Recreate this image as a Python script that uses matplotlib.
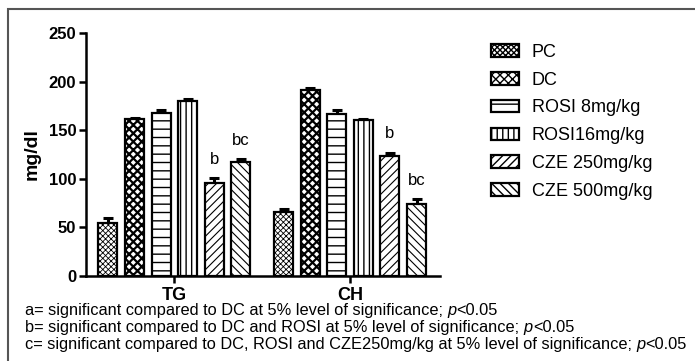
import matplotlib
matplotlib.use('Agg')
import matplotlib.pyplot as plt
import matplotlib.patches as mpatches
import numpy as np

plt.rcParams['font.family'] = ['Liberation Sans', 'DejaVu Sans']

groups = ['TG', 'CH']
series = ['PC', 'DC', 'ROSI 8mg/kg', 'ROSI16mg/kg', 'CZE 250mg/kg', 'CZE 500mg/kg']
# values per series: [TG, CH]
means = [[55, 66], [161, 191], [168, 167], [180, 160], [96, 123], [117, 74]]
errs = [[5, 3], [2, 2], [3, 4], [2, 2], [5, 4], [3, 5]]
letters = [['', ''], ['', ''], ['', ''], ['', ''], ['b', 'b'], ['bc', 'bc']]
hatches = ['xxxxxx', 'xxxx', '--', '|||', '////', '\\\\\\\\']
hatch_lw = [0.6, 1.6, 1.0, 1.0, 0.8, 0.8]

footnotes = [
    ('a= significant compared to DC at 5% level of significance; ', 'p', '<0.05'),
    ('b= significant compared to DC and ROSI at 5% level of significance; ', 'p', '<0.05'),
    ('c= significant compared to DC, ROSI and CZE250mg/kg at 5% level of significance; ', 'p', '<0.05'),
]

fig = plt.figure(figsize=(6.95, 3.61), dpi=100)
ax = fig.add_axes([0.1237, 0.2355, 0.633 - 0.1237, 0.9086 - 0.2355])

x = np.arange(len(groups))
slot = 0.1515
width = 0.108
handles = []
for i, name in enumerate(series):
    pos = x + (i - 2.5) * slot
    with plt.rc_context({'hatch.linewidth': hatch_lw[i]}):
        bars = ax.bar(pos, means[i], width, color='white', edgecolor='black',
                      linewidth=1.6, hatch=hatches[i], label=name, zorder=3)
        for b in bars:
            if hasattr(b, 'set_hatch_linewidth'):
                b.set_hatch_linewidth(hatch_lw[i])
    ax.errorbar(pos, means[i], yerr=[np.zeros(2), errs[i]], fmt='none',
                ecolor='black', elinewidth=2.2, capsize=3.5, capthick=2.2, zorder=2)
    for j in range(len(groups)):
        if letters[i][j]:
            ax.annotate(letters[i][j], (pos[j], means[i][j] + errs[i][j]),
                        xytext=(0, 8), textcoords='offset points',
                        ha='center', va='bottom', fontsize=12)
    handles.append(bars)

ax.set_xlim(-0.504, 1.512)
ax.set_ylim(0, 250)
ax.set_yticks([0, 50, 100, 150, 200, 250])
ax.set_xticks(x)
ax.set_xticklabels(groups, fontsize=13, fontweight='bold')
for lab in ax.get_yticklabels():
    lab.set_fontsize(12)
    lab.set_fontweight('bold')
ax.set_ylabel('mg/dl', fontsize=14, fontweight='bold', labelpad=6)
ax.spines['top'].set_visible(False)
ax.spines['right'].set_visible(False)
for s in ['left', 'bottom']:
    ax.spines[s].set_linewidth(1.8)
ax.tick_params(axis='both', width=1.8, length=5, direction='out')
ax.tick_params(axis='x', pad=3)
ax.tick_params(axis='y', pad=2)

fig.legend(handles=handles, labels=series, loc='upper left',
           bbox_to_anchor=(0.7065, 0.879), frameon=False, fontsize=13,
           handlelength=1.55, handleheight=0.7, handletextpad=0.7,
           labelspacing=0.6, borderpad=0, borderaxespad=0)

# footnotes, placed on their baselines
r = fig.canvas.get_renderer()
ys = [315, 332, 349]
for (pre, it, post), yp in zip(footnotes, ys):
    yf = 1 - yp / 361
    t1 = fig.text(25 / 695, yf, pre, fontsize=11.8, va='baseline', ha='left')
    bb = t1.get_window_extent(renderer=r)
    t2 = fig.text(bb.x1 / fig.bbox.width, yf, it, fontsize=11.8, style='italic',
                  va='baseline', ha='left')
    bb2 = t2.get_window_extent(renderer=r)
    fig.text(bb2.x1 / fig.bbox.width, yf, post, fontsize=11.8, va='baseline', ha='left')

# outer frame
frame = mpatches.Rectangle((8 / 695, -0.5), 2, 1 - 9 / 361 + 0.5, transform=fig.transFigure,
                           fill=False, edgecolor='#555555', linewidth=1.5)
fig.patches.append(frame)

fig.savefig('out.png', dpi=100)
